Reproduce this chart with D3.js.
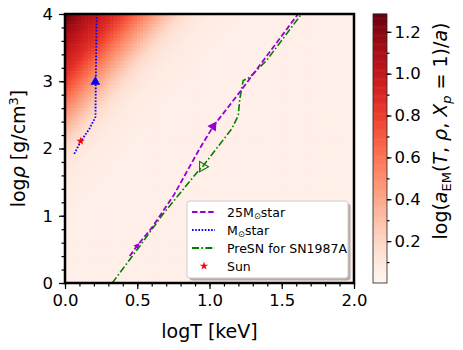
<!DOCTYPE html>
<html>
<head>
<meta charset="utf-8">
<script src="https://cdn.jsdelivr.net/npm/d3@7"></script>
<style>
  body { margin: 0; background: #fff; }
  text { font-family: "DejaVu Sans", sans-serif; fill: #000; }
</style>
</head>
<body>
<div id="chart"></div>
<script>
// shading read down the left edge (logT = 0), logrho = 3.975, 3.925, ... ;
// the bands run along logrho - 2.5 logT, so each grid row is this list shifted one column
var edgeProfile = [1.27, 1.24, 1.21, 1.18, 1.15, 1.12, 1.10, 1.08, 1.055, 1.03,
                   1.005, 0.98, 0.96, 0.94, 0.92, 0.90, 0.88, 0.86, 0.83, 0.80,
                   0.77, 0.74, 0.705, 0.67, 0.635, 0.60, 0.565, 0.53, 0.495, 0.46,
                   0.43, 0.40, 0.37, 0.34, 0.31, 0.28, 0.255, 0.23, 0.205, 0.18,
                   0.162, 0.145, 0.132, 0.12, 0.11, 0.10, 0.092, 0.085, 0.08, 0.075,
                   0.071, 0.068, 0.065, 0.062, 0.06, 0.057, 0.055, 0.053, 0.051, 0.05];
var farValue = 0.042;
var colorRange = [0, 1.285];

// M_sun star track
var sunStarT   = [0.219, 0.216, 0.213, 0.211, 0.168, 0.110, 0.064];
var sunStarRho = [4.00, 3.50, 3.00, 2.47, 2.29, 2.11, 1.92];

// 25 M_sun star track
var bigStarT   = [0.448, 0.498, 0.604, 0.754, 0.927, 1.026, 1.21, 1.613, 1.66];
var bigStarRho = [0.40, 0.55, 0.83, 1.31, 1.98, 2.33, 2.84, 4.00, 4.13];

// PreSN for SN1987A
var preSnT   = [0.327, 0.523, 0.684, 0.927, 0.952, 1.153, 1.199, 1.21, 1.233, 1.279, 1.395, 1.637, 1.66];
var preSnRho = [0.00, 0.565, 1.04, 1.68, 1.73, 2.29, 2.49, 2.74, 3.01, 3.06, 3.31, 4.00, 4.06];

var sunPoint = {t: 0.108, rho: 2.11};

var xTicks = [0, 0.5, 1.0, 1.5, 2.0];
var yTicks = [0, 1, 2, 3, 4];
var cTicks = [0.2, 0.4, 0.6, 0.8, 1.0, 1.2];

var legendLabels = ["25M", "M", "PreSN for SN1987A", "Sun"];

var margin = {top: 14, left: 65},
    width = 289,
    height = 269;

var svg = d3.select("#chart")
  .append("svg")
  .attr("width", 463)
  .attr("height", 350);

var g = svg.append("g")
  .attr("transform", "translate(" + margin.left + "," + margin.top + ")");

var x = d3.scaleLinear().domain([0, 2]).range([0, width]);
var y = d3.scaleLinear().domain([0, 4]).range([height, 0]);
var color = d3.scaleSequential(d3.interpolateReds).domain(colorRange);

// heat map grid: 0.02 in logT by 0.05 in logrho
var tStep = 0.02, rStep = 0.05;
var tCells = d3.range(100).map(function(j) { return j * tStep; });
var rCells = d3.range(80).map(function(i) { return 4 - i * rStep; });
var cells = [];
rCells.forEach(function(r, i) {
  tCells.forEach(function(t, j) {
    var k = i + j;
    cells.push({t: t, r: r, v: k < edgeProfile.length ? edgeProfile[k] : farValue});
  });
});

g.append("g")
  .selectAll("rect")
  .data(cells)
  .enter()
  .append("rect")
  .attr("x", function(d) { return x(d.t); })
  .attr("y", function(d) { return y(d.r); })
  .attr("width", function(d) { return x(d.t + tStep) - x(d.t) + 0.6; })
  .attr("height", function(d) { return y(d.r - rStep) - y(d.r) + 0.6; })
  .attr("fill", function(d) { return color(d.v); });

svg.append("clipPath").attr("id", "clip")
  .append("rect").attr("width", width).attr("height", height);

var plot = g.append("g").attr("clip-path", "url(#clip)");

function track(ts, rs) {
  return ts.map(function(t, i) { return [t, rs[i]]; });
}
var line = d3.line()
  .x(function(d) { return x(d[0]); })
  .y(function(d) { return y(d[1]); });

plot.append("path")
  .datum(track(preSnT, preSnRho))
  .attr("fill", "none")
  .attr("stroke", "green")
  .attr("stroke-width", 1.6)
  .attr("stroke-dasharray", "7,2.4,1.6,2.4")
  .attr("d", line);

plot.append("path")
  .datum(track(bigStarT, bigStarRho))
  .attr("fill", "none")
  .attr("stroke", "darkviolet")
  .attr("stroke-width", 1.8)
  .attr("stroke-dasharray", "5.5,2.6")
  .attr("d", line);

plot.append("path")
  .datum(track(sunStarT, sunStarRho))
  .attr("fill", "none")
  .attr("stroke", "blue")
  .attr("stroke-width", 1.8)
  .attr("stroke-dasharray", "1.6,1.6")
  .attr("d", line);

// direction markers on the tracks
var tri = d3.symbol(d3.symbolTriangle);
plot.append("path")
  .attr("d", tri.size(42)())
  .attr("transform", "translate(" + x(sunStarT[2] - 0.003) + "," + y(sunStarRho[2] - 0.01) + ")")
  .attr("fill", "blue");
plot.append("path")
  .attr("d", tri.size(44)())
  .attr("transform", "translate(" + x(bigStarT[5]) + "," + y(bigStarRho[5]) + ") rotate(34)")
  .attr("fill", "darkviolet");
plot.append("path")
  .attr("d", tri.size(16)())
  .attr("transform", "translate(" + x(bigStarT[1]) + "," + y(bigStarRho[1]) + ") rotate(38)")
  .attr("fill", "darkviolet");
plot.append("path")
  .attr("d", tri.size(46)())
  .attr("transform", "translate(" + x(preSnT[4]) + "," + y(preSnRho[4]) + ") rotate(90)")
  .attr("fill", "none")
  .attr("stroke", "green")
  .attr("stroke-width", 1.1);

plot.append("path")
  .attr("d", d3.symbol(d3.symbolStar).size(22)())
  .attr("transform", "translate(" + x(sunPoint.t) + "," + y(sunPoint.rho) + ")")
  .attr("fill", "red");

// axes
function styleAxis(sel) {
  sel.select(".domain").remove();
  sel.selectAll(".tick line").attr("stroke", "#000").attr("stroke-width", 1.2);
  sel.selectAll(".tick text").style("font-size", "16.5px");
}

g.append("g")
  .attr("transform", "translate(0," + height + ")")
  .call(d3.axisBottom(x).tickValues(d3.range(0, 21).map(function(i) { return i / 10; }))
    .tickSize(3.5).tickFormat(""))
  .call(styleAxis);
g.append("g")
  .attr("transform", "translate(0," + height + ")")
  .call(d3.axisBottom(x).tickValues(xTicks).tickSize(6).tickPadding(5)
    .tickFormat(d3.format(".1f")))
  .call(styleAxis);

g.append("g")
  .call(d3.axisLeft(y).tickValues(d3.range(0, 21).map(function(i) { return i / 5; }))
    .tickSize(3.5).tickFormat(""))
  .call(styleAxis);
g.append("g")
  .call(d3.axisLeft(y).tickValues(yTicks).tickSize(6).tickPadding(6)
    .tickFormat(d3.format("d")))
  .call(styleAxis);

g.append("rect")
  .attr("width", width)
  .attr("height", height)
  .attr("fill", "none")
  .attr("stroke", "#000")
  .attr("stroke-width", 2.5);

// axis labels
svg.append("text")
  .attr("x", margin.left + width / 2)
  .attr("y", 338)
  .attr("text-anchor", "middle")
  .style("font-size", "19px")
  .text("logT [keV]");

var yl = svg.append("text")
  .attr("transform", "translate(25," + (margin.top + height / 2) + ") rotate(-90)")
  .attr("text-anchor", "middle")
  .style("font-size", "19px");
yl.append("tspan").text("log");
yl.append("tspan").style("font-style", "italic").text("ρ");
yl.append("tspan").text(" [g/cm");
yl.append("tspan").attr("dy", -7).style("font-size", "13px").text("3");
yl.append("tspan").attr("dy", 7).text("]");

// legend
var lg = svg.append("g").attr("transform", "translate(187,201)");
lg.append("rect").attr("x", 2.5).attr("y", 2.5).attr("width", 161).attr("height", 77)
  .attr("rx", 3).attr("fill", "#777").attr("opacity", 0.55);
lg.append("rect").attr("width", 161).attr("height", 77).attr("rx", 3)
  .attr("fill", "#fff").attr("stroke", "#ccc").attr("stroke-width", 1);

var rowY = [11, 29, 47, 65];
var handles = [
  {stroke: "darkviolet", dash: "5.5,2.6"},
  {stroke: "blue", dash: "1.6,1.6"},
  {stroke: "green", dash: "7,2.4,1.6,2.4"}
];
handles.forEach(function(h, i) {
  lg.append("line")
    .attr("x1", 5).attr("x2", 28).attr("y1", rowY[i]).attr("y2", rowY[i])
    .attr("stroke", h.stroke).attr("stroke-width", 1.8).attr("stroke-dasharray", h.dash);
});
lg.append("path")
  .attr("d", d3.symbol(d3.symbolStar).size(22)())
  .attr("transform", "translate(17," + rowY[3] + ")")
  .attr("fill", "red");

legendLabels.forEach(function(lbl, i) {
  var t = lg.append("text")
    .attr("x", 40).attr("y", rowY[i] + 4.5)
    .style("font-size", "12.5px");
  t.append("tspan").text(lbl);
  if (i < 2) {
    t.append("tspan").attr("dy", 2.5).style("font-size", "8.5px").text("⊙");
    t.append("tspan").attr("dy", -2.5).text("star");
  }
});

// colour bar
var cx = 373, cw = 14;
var cy = d3.scaleLinear().domain(colorRange).range([margin.top + height, margin.top]);
var cSteps = d3.range(0, 300).map(function(i) { return colorRange[1] * i / 300; });
svg.append("g")
  .selectAll("rect")
  .data(cSteps)
  .enter()
  .append("rect")
  .attr("x", cx)
  .attr("width", cw)
  .attr("y", function(d) { return cy(d + colorRange[1] / 300) - 0.3; })
  .attr("height", cy(0) - cy(colorRange[1] / 300) + 0.6)
  .attr("fill", function(d) { return color(d); });
svg.append("rect")
  .attr("x", cx).attr("y", margin.top).attr("width", cw).attr("height", height)
  .attr("fill", "none").attr("stroke", "#222").attr("stroke-width", 0.8);

svg.append("g")
  .attr("transform", "translate(" + (cx + cw) + ",0)")
  .call(d3.axisRight(cy).tickValues(d3.range(1, 13).map(function(i) { return i / 10; }))
    .tickSize(2.5).tickFormat(""))
  .call(styleAxis);
svg.append("g")
  .attr("transform", "translate(" + (cx + cw) + ",0)")
  .call(d3.axisRight(cy).tickValues(cTicks).tickSize(4.5).tickPadding(3)
    .tickFormat(d3.format(".1f")))
  .call(styleAxis);

var cl = svg.append("text")
  .attr("transform", "translate(447,131) rotate(-90)")
  .attr("text-anchor", "middle")
  .style("font-size", "19px");
cl.append("tspan").text("log(");
cl.append("tspan").style("font-style", "italic").text("a");
cl.append("tspan").attr("dy", 4).style("font-size", "13px").text("EM");
cl.append("tspan").attr("dy", -4).text("(");
cl.append("tspan").style("font-style", "italic").text("T");
cl.append("tspan").text(", ");
cl.append("tspan").style("font-style", "italic").text("ρ");
cl.append("tspan").text(", ");
cl.append("tspan").style("font-style", "italic").text("X");
cl.append("tspan").attr("dy", 4).style("font-size", "13px").style("font-style", "italic").text("p");
cl.append("tspan").attr("dy", -4).text(" = 1)/");
cl.append("tspan").style("font-style", "italic").text("a");
cl.append("tspan").text(")");
</script>
</body>
</html>
